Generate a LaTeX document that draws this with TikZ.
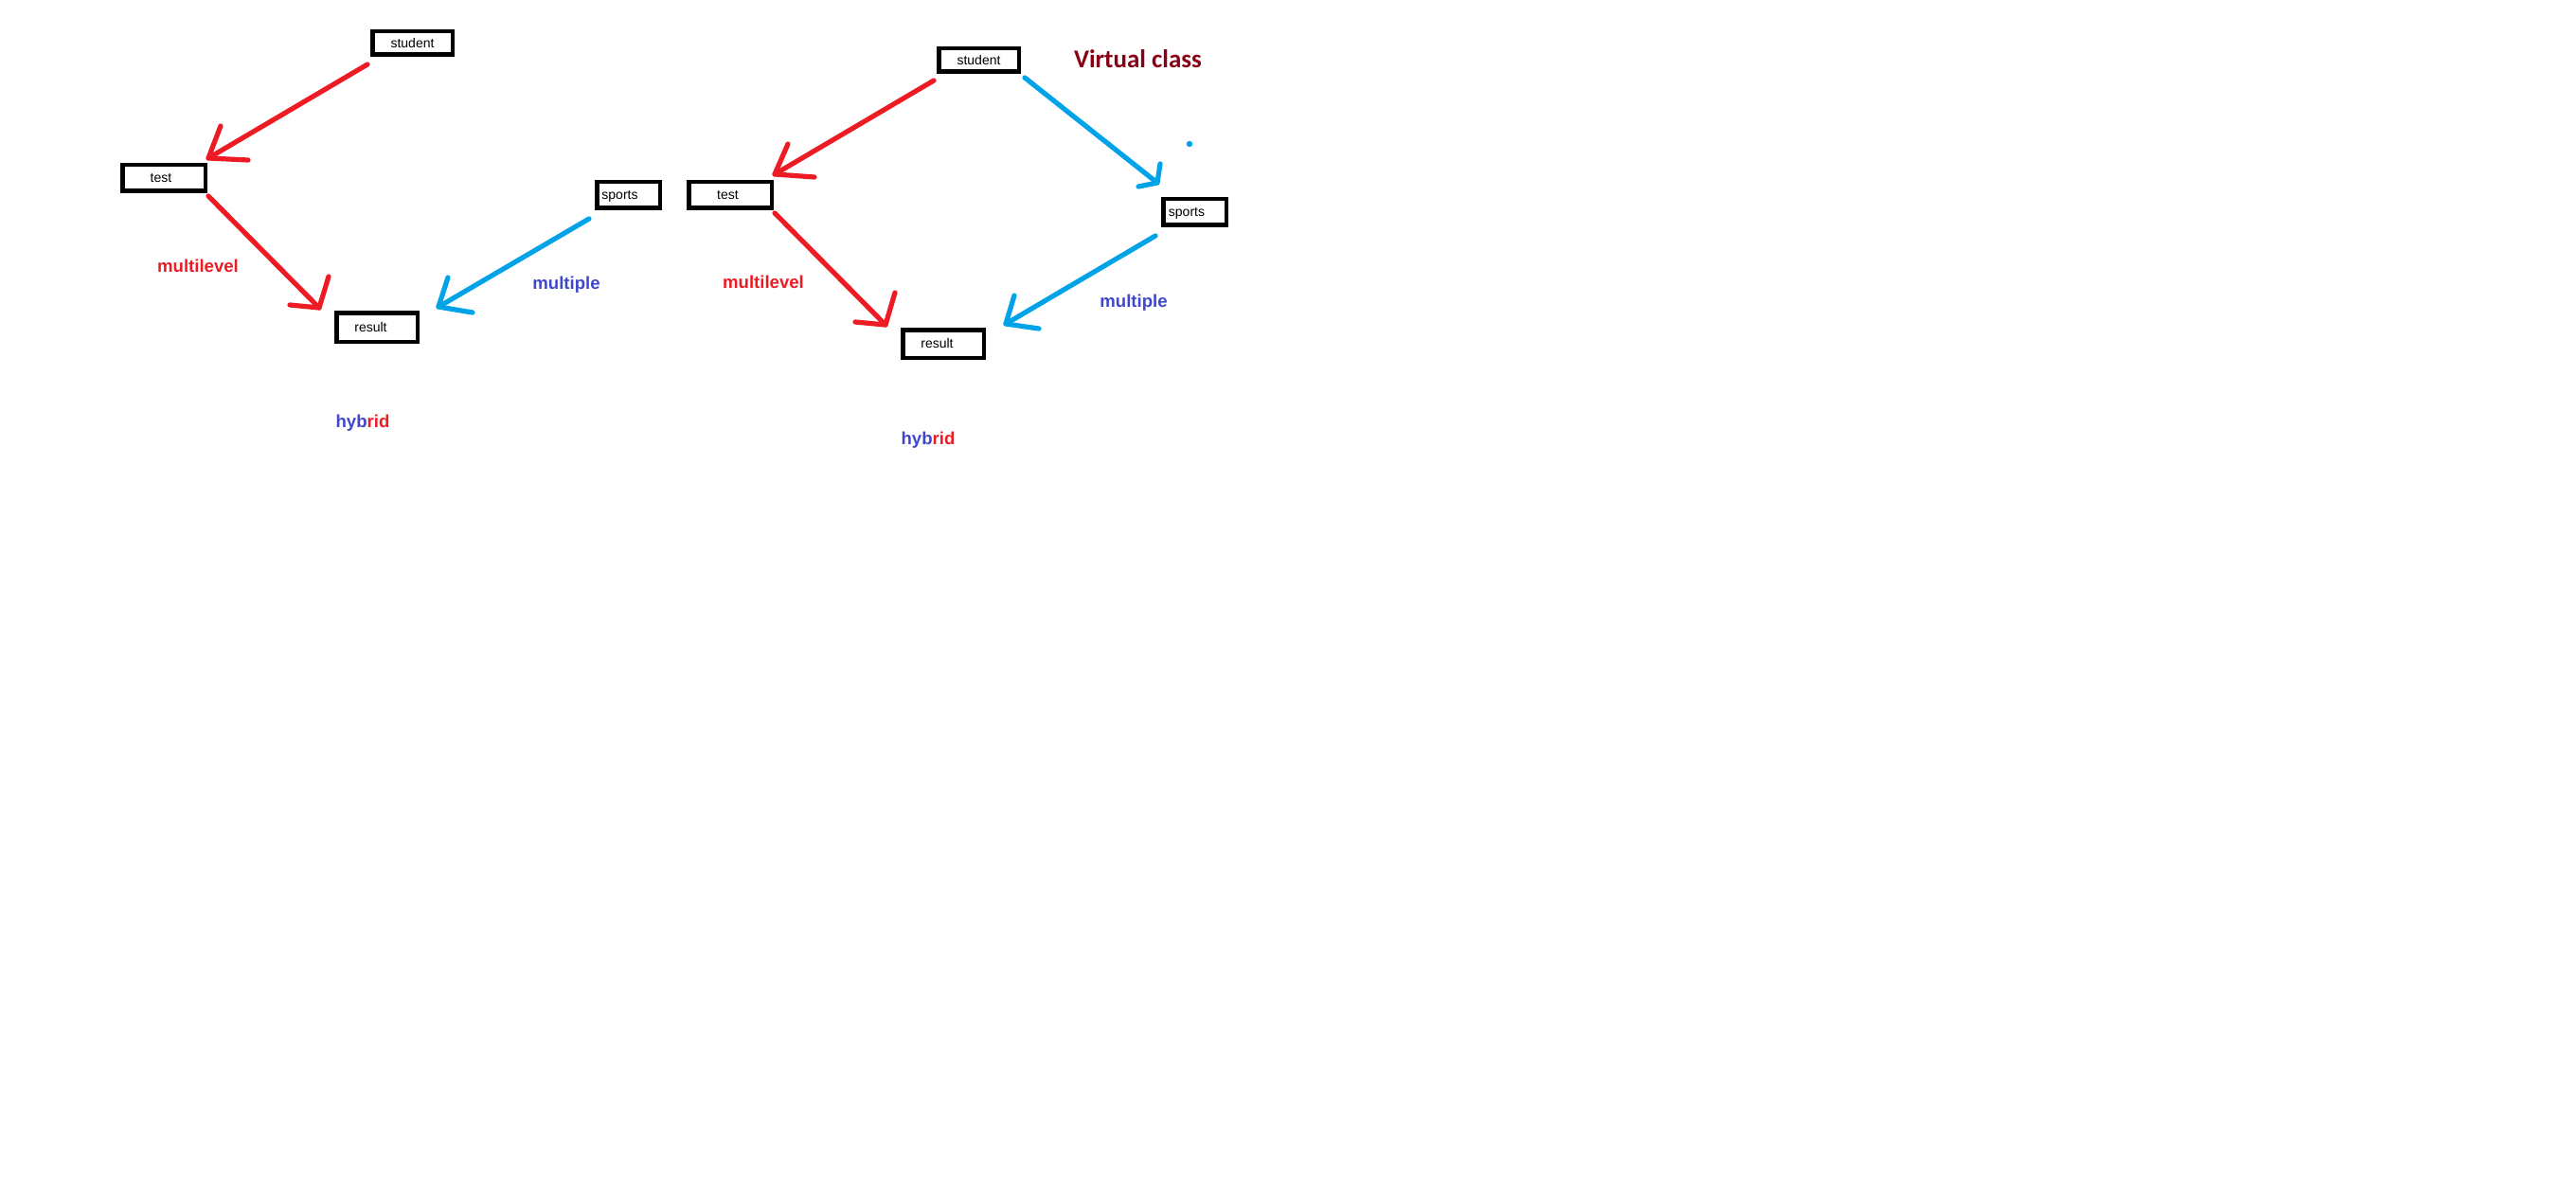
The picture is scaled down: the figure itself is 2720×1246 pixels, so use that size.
\documentclass[tikz,border=0pt]{standalone}
\usepackage{fontspec}
\setmainfont{Liberation Sans}
\newfontfamily\calib{Carlito}
\usetikzlibrary{calc}

\definecolor{paintred}{HTML}{ED1C24}
\definecolor{paintblue}{HTML}{00A2E8}
\definecolor{indigo}{HTML}{3F48CC}
\definecolor{wine}{HTML}{880015}

% hand-drawn arrow: shaft from tail to tip, plus two barbs meeting at the tip
\newcommand\paintarrow[5]{%
  \draw[stroke, #1] (#2) -- (#3);
  \draw[stroke, #1] (#4) -- (#3) -- (#5);
}

\begin{document}
\begin{tikzpicture}[x=0.5pt, y=-0.5pt,
  box/.style={draw, line width=2.25pt, minimum width=#1, inner sep=0pt},
  boxtext/.style={font=\fontsize{7}{8}\selectfont, inner sep=0pt, text height=4.6pt, text depth=0pt},
  tag/.style={font=\fontsize{9.3}{11}\selectfont\bfseries, anchor=base, inner sep=0pt},
  stroke/.style={line width=2.6pt, line cap=round, line join=round}]

\useasboundingbox[fill=white] (0,0) rectangle (2720,1246);

% ---- left diagram ----
\node[box=42.25pt, minimum height=12.25pt, label={[boxtext]center:student}] (stL) at (435.5,45.5) {};
\node[box=43.75pt, minimum height=13.75pt, label={[boxtext, xshift=-1.5pt]center:test}] (teL) at (173,188) {};
\node[box=42.75pt, minimum height=15.25pt, label={[boxtext, xshift=-3.25pt]center:result}] (reL) at (398,345.5) {};
\node[box=33.25pt, minimum height=13.75pt, label={[boxtext, xshift=-4.5pt]center:sports}] (spL) at (663.5,206) {};

\coordinate (a1t) at (388,68);  \coordinate (a1h) at (220,167);
\coordinate (a1b) at (233,133); \coordinate (a1c) at (262,169);
\coordinate (a2t) at (220,207); \coordinate (a2h) at (337,325);
\coordinate (a2b) at (347,292); \coordinate (a2c) at (306,322);
\coordinate (a3t) at (622,231); \coordinate (a3h) at (463,324);
\coordinate (a3b) at (473,293); \coordinate (a3c) at (499,330);

\paintarrow{paintred}{a1t}{a1h}{a1b}{a1c}
\paintarrow{paintred}{a2t}{a2h}{a2b}{a2c}
\paintarrow{paintblue}{a3t}{a3h}{a3b}{a3c}

\node[tag, text=paintred] (mlL) at (209,287) {multilevel};
\node[tag, text=indigo] (mpL) at (598,306) {multiple};
\node[tag] (hyL) at (383,451) {\textcolor{indigo}{hyb}\textcolor{paintred}{rid}};

% ---- right diagram ----
\node[box=42.25pt, minimum height=12.25pt, label={[boxtext]center:student}] (stR) at (1033.5,63.5) {};
\node[box=43.75pt, minimum height=13.75pt, label={[boxtext, xshift=-1.25pt]center:test}] (teR) at (771,206) {};
\node[box=42.75pt, minimum height=14.75pt, label={[boxtext, xshift=-3.25pt]center:result}] (reR) at (996,363) {};
\node[box=33.25pt, minimum height=13.75pt, label={[boxtext, xshift=-4.25pt]center:sports}] (spR) at (1261.5,224) {};

\coordinate (a4t) at (986,85);   \coordinate (a4h) at (818,184);
\coordinate (a4b) at (832,152);  \coordinate (a4c) at (860,187);
\coordinate (a5t) at (818,225);  \coordinate (a5h) at (935,343);
\coordinate (a5b) at (945,309);  \coordinate (a5c) at (903,340);
\coordinate (a6t) at (1082,82);  \coordinate (a6h) at (1222,193);
\coordinate (a6b) at (1225,173); \coordinate (a6c) at (1202,197);
\coordinate (a7t) at (1220,249); \coordinate (a7h) at (1062,342);
\coordinate (a7b) at (1071,312); \coordinate (a7c) at (1097,347);

\paintarrow{paintred}{a4t}{a4h}{a4b}{a4c}
\paintarrow{paintred}{a5t}{a5h}{a5b}{a5c}
\paintarrow{paintblue}{a6t}{a6h}{a6b}{a6c}
\paintarrow{paintblue}{a7t}{a7h}{a7b}{a7c}

\fill[paintblue] (1256,152) circle (1.6pt);

\node[tag, text=paintred] (mlR) at (806,305) {multilevel};
\node[tag, text=indigo] (mpR) at (1197,324) {multiple};
\node[tag] (hyR) at (980,469) {\textcolor{indigo}{hyb}\textcolor{paintred}{rid}};

\node[font=\calib\fontsize{13.5}{16}\selectfont\bfseries, text=wine, anchor=base, inner sep=0pt] (title) at (1201.5,72) {Virtual class};

\end{tikzpicture}
\end{document}
